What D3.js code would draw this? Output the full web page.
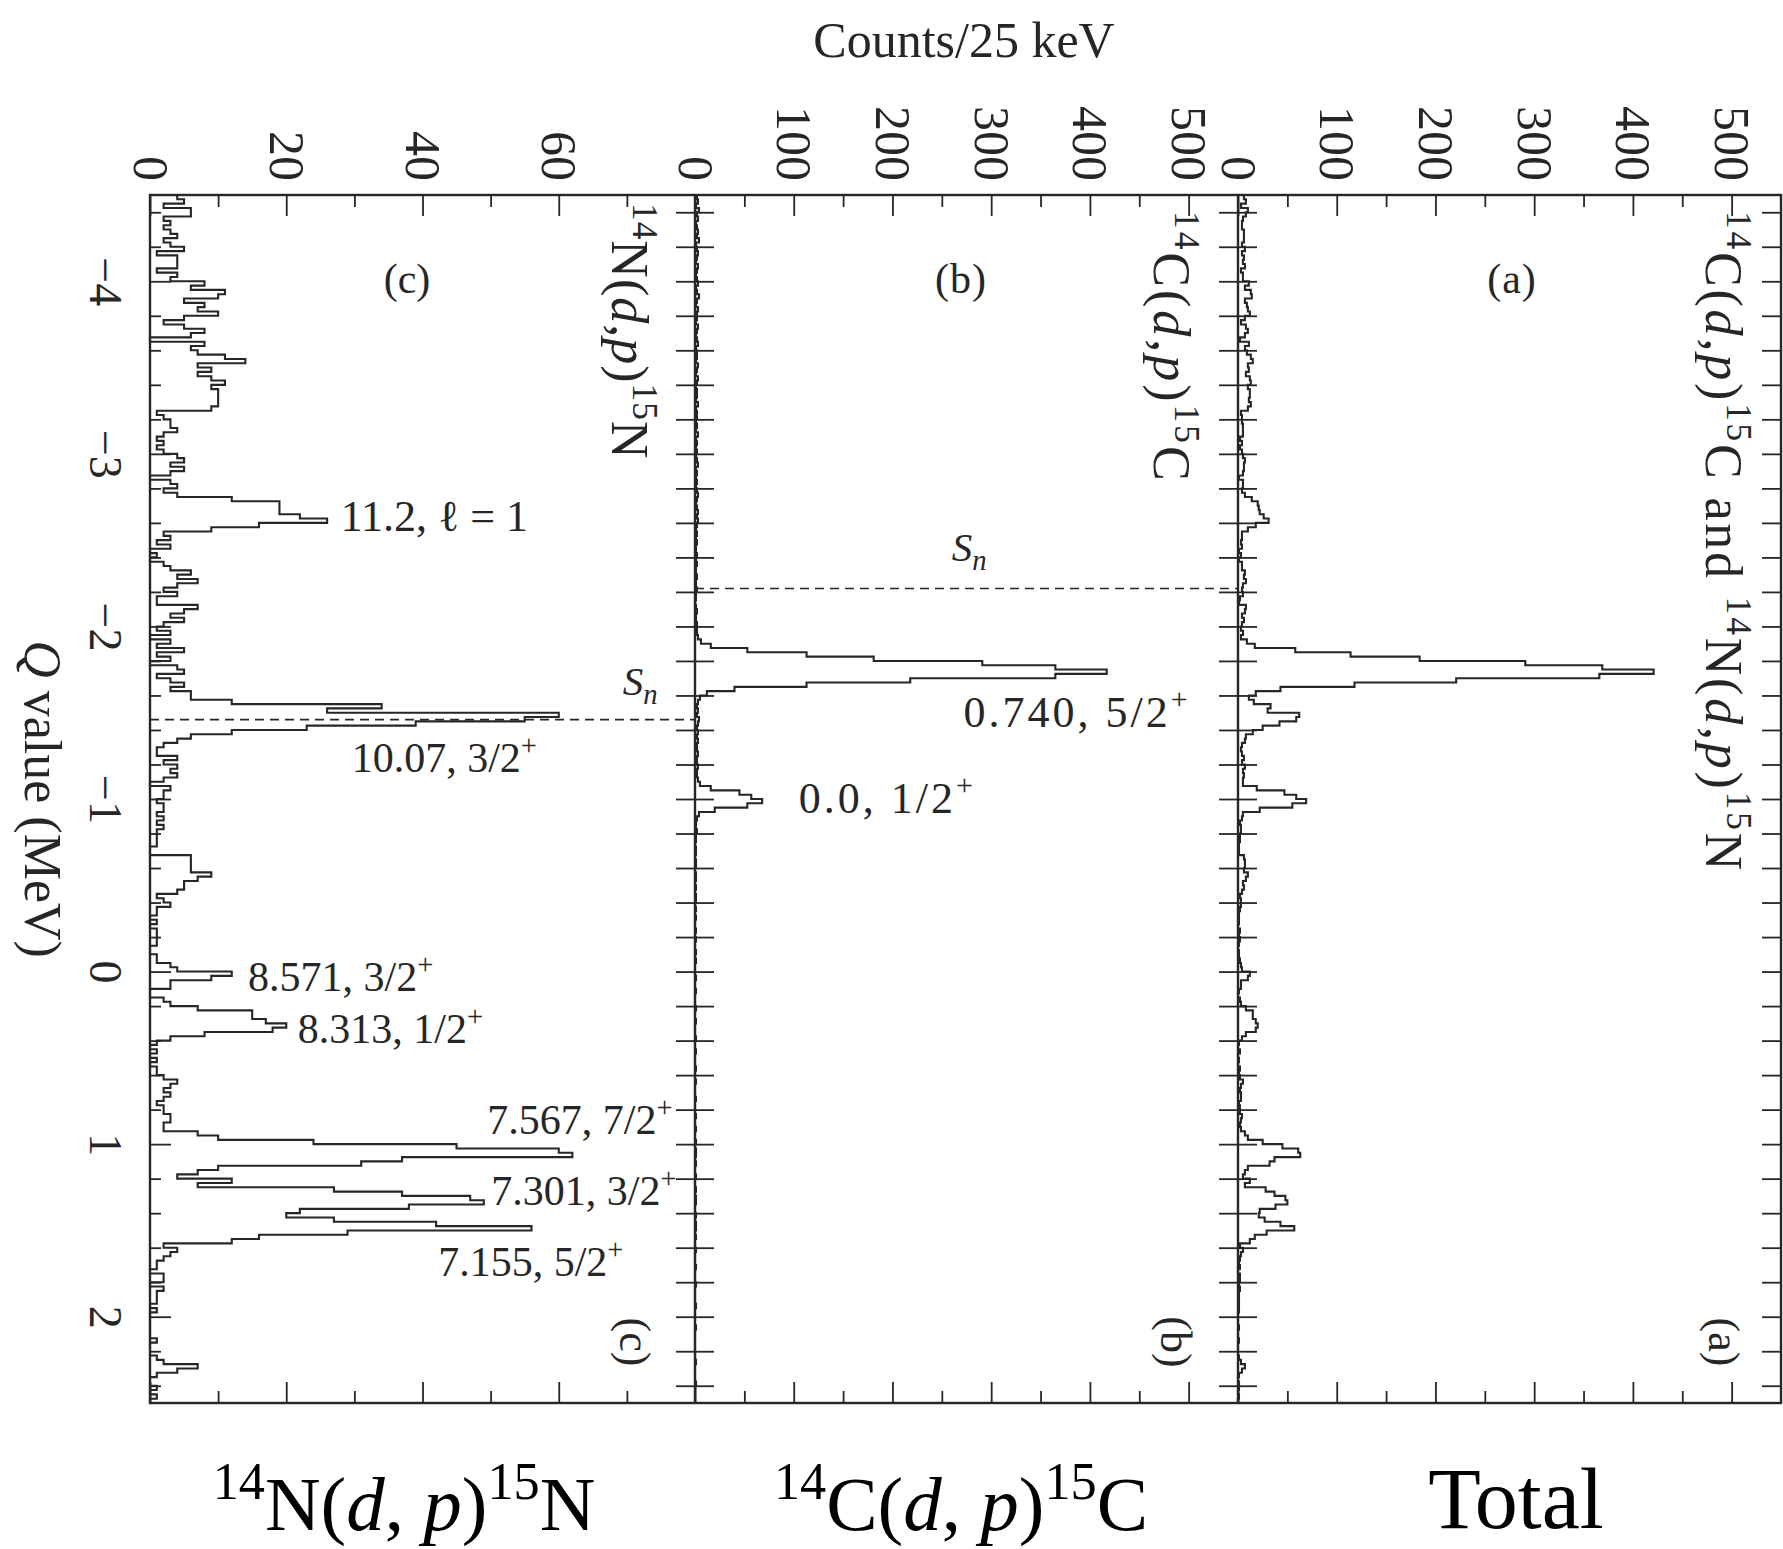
<!DOCTYPE html>
<html>
<head>
<meta charset="utf-8">
<script src="https://cdn.jsdelivr.net/npm/d3@7"></script>
<style>
  body { margin: 0; background: #fff; }
  svg { font-family: "Liberation Serif", "Times New Roman", serif; }
</style>
</head>
<body>
<div id="chart"></div>
<script>
// Q value of the first bin edge and bin width (MeV), 25 keV bins
const qStart = -4.5;
const binWidth = 0.025;

// (c) 14N(d,p)15N, counts per 25 keV bin
const countsN = [
  4,5,2,6,6,2,3,2,3,4,2,3,5,1,4,4,4,1,4,3,
  8,6,11,10,5,8,7,10,5,2,5,8,6,0,8,6,7,11,14,7,
  9,7,9,11,9,10,10,10,10,9,1,2,3,3,4,2,1,2,1,2,
  4,5,3,5,3,0,3,4,2,4,12,19,19,19,22,26,16,9,2,3,
  1,3,0,1,0,2,3,6,4,7,4,2,4,1,1,7,5,3,5,2,
  1,3,0,3,1,5,1,3,0,4,5,1,3,5,3,6,6,12,34,26,
  60,55,39,23,12,6,4,2,1,1,4,2,4,3,4,2,0,3,2,2,
  1,2,2,1,2,1,2,1,1,1,1,0,0,6,6,6,6,9,7,5,
  5,4,1,2,3,1,1,0,1,0,1,1,1,1,0,0,1,1,3,4,
  12,9,3,3,0,0,2,3,7,15,15,17,20,18,8,3,1,0,1,0,
  1,0,1,1,2,4,3,2,3,2,1,2,2,3,3,2,2,7,10,24,
  45,60,62,37,31,10,7,4,12,7,27,37,47,49,38,22,20,27,42,56,
  29,16,12,2,4,3,2,1,1,0,2,2,0,2,1,1,1,0,1,0,
  0,0,0,0,0,1,0,0,0,1,2,7,4,1,0,0,1,0,1,0
];

// (b) 14C(d,p)15C
const countsC = [
  2,3,1,4,2,3,1,2,3,2,4,1,2,3,2,1,3,2,1,2,
  3,1,2,4,2,1,3,2,2,1,3,2,1,2,3,1,2,2,1,3,
  2,1,3,2,1,2,2,1,3,1,2,2,1,2,1,3,1,2,1,2,
  1,2,3,1,2,1,2,1,2,3,2,1,2,3,2,3,2,1,2,1,
  2,1,1,2,1,2,1,1,2,1,1,2,1,1,0,1,2,1,1,2,
  2,2,3,6,16,53,113,181,291,365,417,365,218,113,40,12,5,3,2,3,
  2,4,3,2,3,2,3,2,2,3,2,2,3,2,2,3,5,16,45,57,
  68,53,20,4,2,1,1,2,1,1,0,1,1,0,1,1,0,1,1,0,
  1,0,1,1,0,1,0,1,0,0,1,0,1,0,0,1,0,1,0,0,
  0,1,0,0,1,0,0,0,1,0,0,1,0,0,0,1,0,0,1,0,
  0,0,1,0,0,1,0,0,0,1,0,0,0,1,0,0,1,0,0,1,
  0,1,1,0,1,0,0,1,0,0,1,0,1,1,0,0,1,0,1,1,
  0,1,0,0,1,0,0,0,1,0,0,0,1,0,0,0,0,1,0,0,
  0,0,1,0,0,0,0,0,0,0,1,0,0,0,0,1,0,0,0,0
];

// (a) total
const countsTotal = [
  6,8,3,10,8,5,4,4,6,6,6,4,7,4,6,5,7,3,5,5,
  11,7,13,14,7,9,10,12,7,3,8,10,7,2,11,7,9,13,15,10,
  11,8,12,13,10,12,12,11,13,10,3,4,4,5,5,5,2,4,2,4,
  5,7,6,6,5,1,5,5,4,7,14,20,21,22,26,31,18,10,4,4,
  3,4,1,3,1,4,4,7,6,8,5,4,5,2,1,8,7,4,6,4,
  3,5,3,9,17,58,114,184,291,369,421,366,221,118,43,18,11,16,33,30,
  62,59,42,25,15,8,7,4,3,4,6,4,7,5,6,5,5,19,47,59,
  69,55,22,5,4,2,3,3,2,2,1,1,1,6,7,7,6,10,8,5,
  6,4,2,3,3,2,1,1,1,0,2,1,2,1,0,1,1,2,3,4,
  12,10,3,3,1,0,2,3,8,15,15,18,20,18,8,4,1,0,2,0,
  1,0,2,1,2,5,3,2,3,3,1,2,2,4,3,2,3,7,10,25,
  45,61,63,37,32,10,7,5,12,7,28,37,48,50,38,22,21,27,43,57,
  29,17,12,2,5,3,2,1,2,0,2,2,1,2,1,1,1,1,1,0,
  0,0,1,0,0,1,0,0,0,1,3,7,4,1,0,1,1,0,1,0
];

const qMajor = [-4, -3, -2, -1, 0, 1, 2];
const countTicksN = [0, 20, 40, 60];
const countMinorN = [10, 30, 50, 70];
const countTicksC = [0, 100, 200, 300, 400, 500];
const countMinorC = [50, 150, 250, 350, 450];

// neutron separation energies drawn as dashed lines (Q, MeV)
const snN = -1.46;
const snC = -2.22;

// state labels: [text, spin, count, Q]
const labelsN = [
  ['8.571, ', '3/2', 14.4, 0.111],
  ['8.313, ', '1/2', 21.7, 0.412],
  ['7.567, ', '7/2', 49.5, 0.940],
  ['7.301, ', '3/2', 50.1, 1.352],
  ['7.155, ', '5/2', 42.3, 1.763],
  ['10.07, ', '3/2', 29.6, -1.154]
];
const labelsC = [
  ['0.740, ', '5/2', 272, -1.415],
  ['0.0, ', '1/2', 105, -0.916]
];

const svg = d3.select('#chart').append('svg')
  .attr('width', 1783)
  .attr('height', 1549)
  .style('background', '#fff');

const ink = '#262626';
const y = d3.scaleLinear().domain([-4.5, 2.5]).range([195, 1403]);

const xN = d3.scaleLinear().domain([0, 80]).range([150, 695]);
const xC = d3.scaleLinear().domain([0, 550]).range([695, 1238]);
const xT = d3.scaleLinear().domain([0, 550]).range([1238, 1781]);

const panels = [
  { vals: countsN, x: xN, major: countTicksN, minor: countMinorN },
  { vals: countsC, x: xC, major: countTicksC, minor: countMinorC },
  { vals: countsTotal, x: xT, major: countTicksC, minor: countMinorC }
];

// text with superscripts / italics
function rich(sel, parts, size) {
  parts.forEach(p => {
    const t = sel.append('tspan').text(p.t);
    if (p.it) t.attr('font-style', 'italic');
    if (p.sup) t.attr('font-size', size * 0.68).attr('baseline-shift', size * 0.4);
    if (p.sub) t.attr('font-size', size * 0.7).attr('baseline-shift', -size * 0.22);
  });
  return sel;
}

const qMinor = d3.range(-22, 13).map(k => k / 5).filter(q => !Number.isInteger(q));
const fmtQ = d => d < 0 ? '\u2212' + Math.abs(d) : String(d);

// histograms
const line = d3.line().curve(d3.curveStepBefore);
panels.forEach(p => {
  const pts = p.vals.map((v, i) => [p.x(v), y(qStart + i * binWidth)]);
  pts.push([p.x(p.vals[p.vals.length - 1]), y(qStart + p.vals.length * binWidth)]);
  svg.append('path')
    .attr('d', line(pts))
    .attr('fill', 'none')
    .attr('stroke', ink)
    .attr('stroke-width', 2.1)
    .attr('stroke-linejoin', 'miter');
});

// count axes, top and bottom
panels.forEach(p => {
  const top = svg.append('g').attr('transform', 'translate(0,195)')
    .style('color', ink)
    .call(d3.axisTop(p.x).tickValues(p.major).tickSizeInner(-21).tickSizeOuter(0).tickFormat(d3.format('d')))
    .attr('font-family', null).attr('font-size', 50);
  top.select('.domain').remove();
  top.selectAll('.tick line').attr('stroke-width', 1.8);
  top.selectAll('.tick text')
    .attr('transform', 'rotate(90)')
    .attr('x', -14).attr('y', 0).attr('dy', '0.34em')
    .attr('text-anchor', 'end')
    .attr('fill', ink);

  const topMinor = svg.append('g').attr('transform', 'translate(0,195)').style('color', ink)
    .call(d3.axisTop(p.x).tickValues(p.minor).tickSizeInner(-12).tickSizeOuter(0).tickFormat(''));
  topMinor.select('.domain').remove();
  topMinor.selectAll('.tick line').attr('stroke-width', 1.8);

  [[p.major, -21], [p.minor, -12]].forEach(([vals, len]) => {
    const bot = svg.append('g').attr('transform', 'translate(0,1403)').style('color', ink)
      .call(d3.axisBottom(p.x).tickValues(vals).tickSizeInner(len).tickSizeOuter(0).tickFormat(''));
    bot.select('.domain').remove();
    bot.selectAll('.tick line').attr('stroke-width', 1.8);
  });
});

// Q axis on the left of panel (c)
const left = svg.append('g').attr('transform', 'translate(150,0)')
  .style('color', ink)
  .call(d3.axisLeft(y).tickValues(qMajor).tickSizeInner(-21).tickSizeOuter(0).tickFormat(fmtQ))
  .attr('font-family', null).attr('font-size', 46);
left.select('.domain').remove();
left.selectAll('.tick line').attr('stroke-width', 1.8);
left.selectAll('.tick text')
  .attr('x', 0).attr('dy', 0)
  .attr('transform', 'translate(-60,0) rotate(90)')
  .attr('text-anchor', 'middle')
  .attr('fill', ink);
const leftMinor = svg.append('g').attr('transform', 'translate(150,0)').style('color', ink)
  .call(d3.axisLeft(y).tickValues(qMinor).tickSizeInner(-11).tickSizeOuter(0).tickFormat(''));
leftMinor.select('.domain').remove();
leftMinor.selectAll('.tick line').attr('stroke-width', 1.8);

// Q ticks on panel boundaries and the right edge
const allQ = qMajor.concat(qMinor);
[695, 1238].forEach(bx => {
  [d3.axisLeft(y), d3.axisRight(y)].forEach(ax => {
    const g = svg.append('g').attr('transform', `translate(${bx},0)`).style('color', ink)
      .call(ax.tickValues(allQ).tickSizeInner(-19).tickSizeOuter(0).tickFormat(''));
    g.select('.domain').remove();
    g.selectAll('.tick line').attr('stroke-width', 1.8);
  });
});
const right = svg.append('g').attr('transform', 'translate(1781,0)').style('color', ink)
  .call(d3.axisRight(y).tickValues(allQ).tickSizeInner(-19).tickSizeOuter(0).tickFormat(''));
right.select('.domain').remove();
right.selectAll('.tick line').attr('stroke-width', 1.8);

// frames
svg.append('rect')
  .attr('x', xN(0)).attr('y', y(-4.5))
  .attr('width', xT(550) - xN(0)).attr('height', y(2.5) - y(-4.5))
  .attr('fill', 'none').attr('stroke', ink).attr('stroke-width', 2.4);
[xC(0), xT(0)].forEach(bx => {
  svg.append('line').attr('x1', bx).attr('x2', bx).attr('y1', y(-4.5)).attr('y2', y(2.5))
    .attr('stroke', ink).attr('stroke-width', 2.4);
});

// separation energy lines
[[xN, snN, 80], [xC, snC, 550]].forEach(([x, q, max]) => {
  svg.append('line')
    .attr('x1', x(0)).attr('x2', x(max))
    .attr('y1', y(q)).attr('y2', y(q))
    .attr('stroke', ink).attr('stroke-width', 1.6)
    .attr('stroke-dasharray', '9,6');
});

// axis titles
svg.append('text')
  .attr('x', 964).attr('y', 57)
  .attr('text-anchor', 'middle').attr('font-size', 50).attr('fill', ink)
  .text('Counts/25 keV');

rich(svg.append('text')
  .attr('transform', `translate(25,${(y(-4.5) + y(2.5)) / 2}) rotate(90)`)
  .attr('text-anchor', 'middle').attr('font-size', 52).attr('fill', ink),
  [{ t: 'Q', it: true }, { t: ' value (MeV)' }], 52);

// panel letters
[[407, '(c)', 0], [961, '(b)', 1], [1512, '(a)', 1]].forEach(([px, t, ls]) => {
  svg.append('text').attr('x', px).attr('y', 293)
    .attr('text-anchor', 'middle').attr('font-size', 42).attr('letter-spacing', ls)
    .attr('fill', ink).text(t);
});
[[620, '(c)'], [1161, '(b)'], [1709, '(a)']].forEach(([px, t]) => {
  svg.append('text').attr('transform', `translate(${px},1342) rotate(90)`)
    .attr('text-anchor', 'middle').attr('font-size', 44).attr('fill', ink).text(t);
});

// reaction labels, rotated, inside each panel
const reacN = [{ t: '14', sup: true }, { t: 'N(' }, { t: 'd', it: true }, { t: ',' }, { t: 'p', it: true }, { t: ')' }, { t: '15', sup: true }, { t: 'N' }];
const reacC = [{ t: '14', sup: true }, { t: 'C(' }, { t: 'd', it: true }, { t: ',' }, { t: 'p', it: true }, { t: ')' }, { t: '15', sup: true }, { t: 'C' }];
const reacT = reacC.concat([{ t: ' and ' }], reacN);
[[612, 203, reacN, 1], [1154, 211, reacC, 3], [1706, 211, reacT, 2.8]].forEach(([px, py, parts, ls]) => {
  rich(svg.append('text')
    .attr('transform', `translate(${px},${py}) rotate(90)`)
    .attr('font-size', 52).attr('letter-spacing', ls).attr('fill', ink), parts, 52);
});

// state annotations
function stateLabel(x, row, size, spacing) {
  rich(svg.append('text')
    .attr('x', x(row[2])).attr('y', y(row[3]))
    .attr('font-size', size).attr('fill', ink)
    .attr('letter-spacing', spacing),
    [{ t: row[0] + row[1] }, { t: '+', sup: true }], size);
}
labelsN.forEach(r => stateLabel(xN, r, 42, 0));
labelsC.forEach(r => stateLabel(xC, r, 44, 3));

svg.append('text')
  .attr('x', xN(28.0)).attr('y', y(-2.553))
  .attr('font-size', 44).attr('fill', ink)
  .text('11.2, \u2113 = 1');

rich(svg.append('text').attr('x', xN(69.4)).attr('y', y(-1.60))
  .attr('font-size', 41).attr('fill', ink),
  [{ t: 'S', it: true }, { t: 'n', it: true, sub: true }], 41);
rich(svg.append('text').attr('x', xC(260)).attr('y', y(-2.377))
  .attr('font-size', 41).attr('fill', ink),
  [{ t: 'S', it: true }, { t: 'n', it: true, sub: true }], 41);

// bottom captions
const capN = [{ t: '14', sup: true }, { t: 'N(' }, { t: 'd', it: true }, { t: ', ' }, { t: 'p', it: true }, { t: ')' }, { t: '15', sup: true }, { t: 'N' }];
const capC = [{ t: '14', sup: true }, { t: 'C(' }, { t: 'd', it: true }, { t: ', ' }, { t: 'p', it: true }, { t: ')' }, { t: '15', sup: true }, { t: 'C' }];
rich(svg.append('text').attr('x', 404).attr('y', 1530)
  .attr('text-anchor', 'middle').attr('font-size', 77).attr('fill', '#000'), capN, 77);
rich(svg.append('text').attr('x', 961).attr('y', 1530)
  .attr('text-anchor', 'middle').attr('font-size', 77).attr('fill', '#000'), capC, 77);
svg.append('text').attr('x', 1516).attr('y', 1528)
  .attr('text-anchor', 'middle').attr('font-size', 86).attr('fill', '#000').text('Total');
</script>
</body>
</html>
